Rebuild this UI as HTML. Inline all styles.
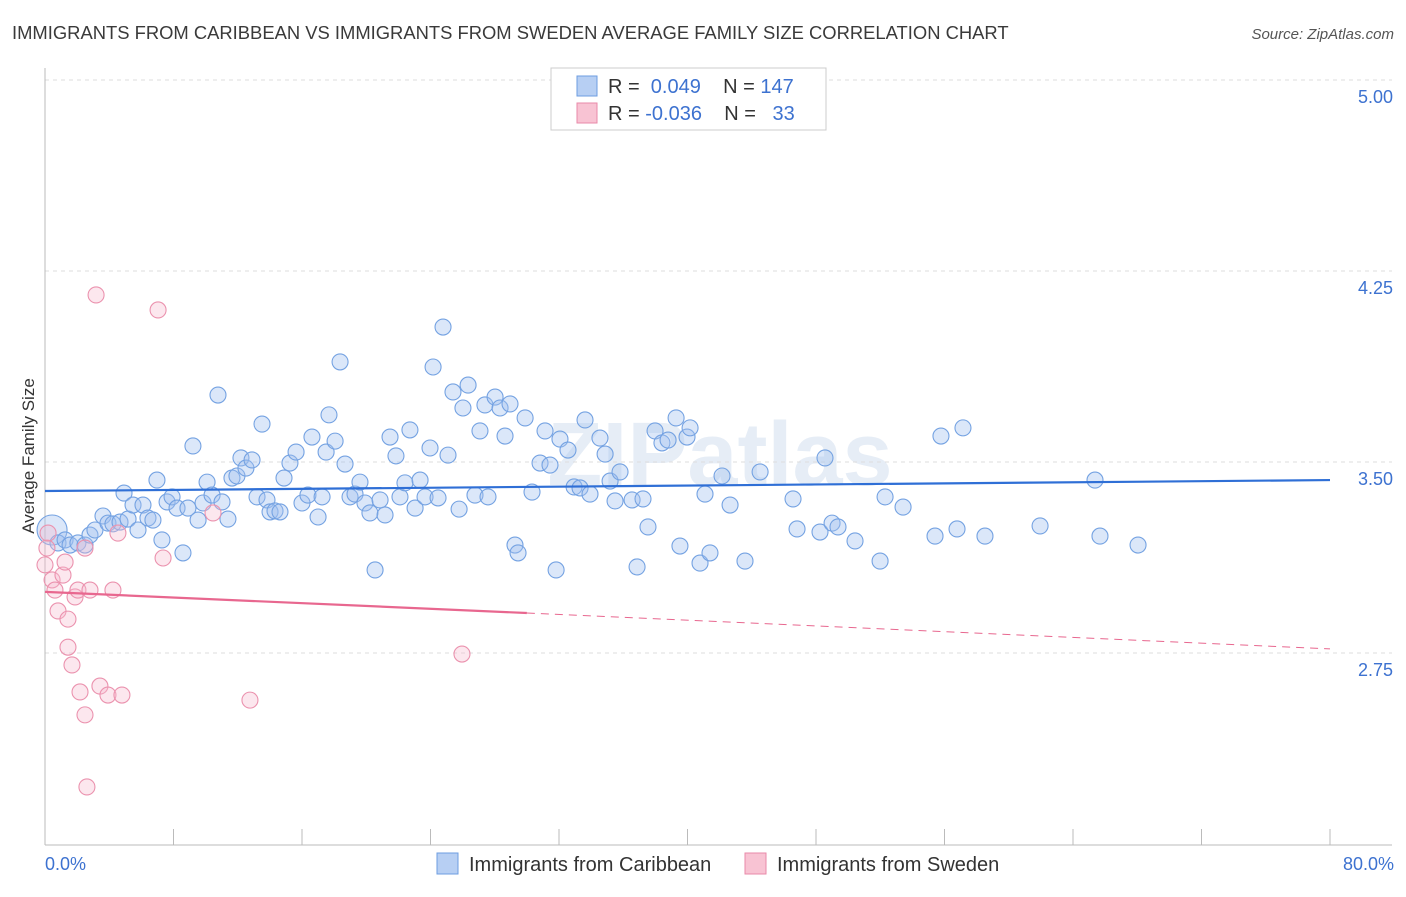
<!DOCTYPE html>
<html><head><meta charset="utf-8"><style>
body{margin:0;background:#fff;font-family:"Liberation Sans",sans-serif;}
svg text{font-family:"Liberation Sans",sans-serif;}
</style></head><body>
<svg id="chart" width="1406" height="892">
<text x="12" y="39" font-size="18.4" fill="#3a3a3a">IMMIGRANTS FROM CARIBBEAN VS IMMIGRANTS FROM SWEDEN AVERAGE FAMILY SIZE CORRELATION CHART</text>
<text x="1394" y="39" font-size="15" fill="#555" text-anchor="end" font-style="italic">Source: ZipAtlas.com</text>
<text x="720" y="485" font-size="90" fill="#e6edf6" text-anchor="middle" font-weight="bold">ZIPatlas</text>
<g id="grid"></g><g id="axes"></g><g id="pts"></g><g id="trend"></g>
<text x="34" y="456" font-size="17" fill="#333" text-anchor="middle" transform="rotate(-90 34 456)">Average Family Size</text>
<text x="45" y="870" font-size="18" fill="#3d72d0">0.0%</text>
<text x="1394" y="870" font-size="18" fill="#3d72d0" text-anchor="end">80.0%</text>
<g>
<rect x="551" y="68" width="275" height="62" fill="#fff" stroke="#ccc"/>
<rect x="577" y="76" width="20" height="20" fill="#b7cff3" stroke="#6e9de0"/>
<rect x="577" y="103" width="20" height="20" fill="#f8c3d3" stroke="#e98aa8"/>
<text x="608" y="93" font-size="20" fill="#333">R = <tspan fill="#3d72d0">&#160;0.049</tspan>&#160;&#160;&#160; N = <tspan fill="#3d72d0">147</tspan></text>
<text x="608" y="120" font-size="20" fill="#333">R = <tspan fill="#3d72d0">-0.036</tspan>&#160;&#160;&#160; N = <tspan fill="#3d72d0">&#160;&#160;33</tspan></text>
</g>
<g>
<rect x="437" y="853" width="21" height="21" fill="#b7cff3" stroke="#6e9de0"/>
<text x="469" y="871" font-size="20" fill="#333">Immigrants from Caribbean</text>
<rect x="745" y="853" width="21" height="21" fill="#f8c3d3" stroke="#e98aa8"/>
<text x="777" y="871" font-size="20" fill="#333">Immigrants from Sweden</text>
</g>
</svg>
<script>
const yTicks=[5.00,4.25,3.50,2.75];
const xTicks=[0,8,16,24,32,40,48,56,64,72,80];
const blueX=[0.44,0.81,1.25,1.56,2.05,2.49,2.80,3.11,3.61,3.92,4.23,4.67,4.92,5.17,5.48,5.79,6.10,6.41,6.72,6.97,7.28,7.60,7.91,8.22,8.59,8.90,9.21,9.53,9.84,10.09,10.40,10.77,11.02,11.39,11.64,11.95,12.20,12.51,12.89,13.20,13.51,13.82,14.01,14.32,14.63,14.88,15.25,15.63,16.00,16.37,16.62,17.00,17.25,17.50,17.68,18.06,18.37,18.68,18.99,19.30,19.61,19.92,20.23,20.55,20.86,21.17,21.48,21.85,22.10,22.41,22.72,23.04,23.35,23.66,23.97,24.16,24.47,24.78,25.09,25.40,25.78,26.02,26.34,26.77,27.08,27.39,27.58,28.02,28.33,28.64,28.95,29.26,29.45,29.89,30.32,30.82,31.13,31.44,31.82,32.06,32.56,32.94,33.31,33.62,33.93,34.55,34.87,35.18,35.49,35.80,36.55,36.86,37.23,37.54,37.98,38.41,38.79,39.29,39.53,39.97,40.16,40.78,41.09,41.40,42.15,42.65,43.58,44.52,46.57,46.82,48.25,48.56,49.00,49.37,50.43,51.99,52.30,53.42,55.41,55.78,56.78,57.15,58.52,61.95,65.37,65.68,68.05];
const blueY=[3.233,3.182,3.194,3.174,3.182,3.174,3.213,3.233,3.288,3.260,3.257,3.264,3.378,3.276,3.331,3.233,3.331,3.280,3.272,3.429,3.194,3.343,3.363,3.319,3.143,3.319,3.563,3.272,3.339,3.421,3.370,3.763,3.343,3.276,3.437,3.445,3.516,3.476,3.508,3.363,3.649,3.351,3.304,3.308,3.304,3.437,3.496,3.539,3.339,3.370,3.598,3.284,3.363,3.539,3.685,3.582,3.893,3.492,3.363,3.374,3.421,3.339,3.300,3.076,3.351,3.292,3.598,3.524,3.363,3.418,3.626,3.319,3.429,3.363,3.555,3.873,3.359,4.030,3.527,3.775,3.315,3.712,3.802,3.370,3.622,3.724,3.363,3.755,3.712,3.602,3.728,3.174,3.143,3.673,3.382,3.496,3.622,3.488,3.076,3.590,3.547,3.402,3.398,3.665,3.374,3.594,3.531,3.425,3.347,3.461,3.351,3.088,3.355,3.245,3.622,3.575,3.586,3.673,3.170,3.598,3.634,3.103,3.374,3.143,3.445,3.331,3.111,3.461,3.355,3.237,3.225,3.516,3.260,3.245,3.190,3.111,3.363,3.323,3.209,3.602,3.237,3.634,3.209,3.249,3.429,3.209,3.174];
const pinkX=[0.0,0.12,0.44,0.62,0.81,1.12,1.25,1.43,1.43,1.68,1.87,2.05,2.18,2.49,2.61,2.80,3.18,3.42,3.92,4.23,4.54,4.79,7.04,7.35,10.46,12.76,25.96,2.49,0.19];
const pinkY=[3.096,3.162,3.037,2.997,2.915,3.056,3.107,2.883,2.773,2.703,2.970,2.997,2.597,2.507,2.224,2.997,4.156,2.620,2.585,2.997,3.221,2.585,4.097,3.123,3.300,2.565,2.746,3.162,3.221];
const blueTrend=[3.386,3.429];
const pinkTrend=[2.99,2.907,2.766];
const NS='http://www.w3.org/2000/svg';
const sx=v=>45+v/80*1285;
const sy=v=>80+(5-v)/0.75*191;
function mk(t,a,p){const e=document.createElementNS(NS,t);for(const k in a)e.setAttribute(k,a[k]);p.appendChild(e);return e;}
const grid=document.getElementById('grid'),axes=document.getElementById('axes');
yTicks.forEach(t=>{
 const l=mk('line',{x1:45,x2:1392,y1:sy(t),y2:sy(t),stroke:'#ddd','stroke-dasharray':'4,4'},grid);
 
 
 const tx=mk('text',{x:1393,y:sy(t)+23,'font-size':18,fill:'#3d72d0','text-anchor':'end'},grid);
 tx.textContent=t.toFixed(2);
 
 
});
const ya=mk('line',{x1:45,x2:45,y1:68,y2:845,stroke:'#bbb'},axes);


const xa=mk('line',{x1:45,x2:1392,y1:845,y2:845,stroke:'#bbb'},axes);


xTicks.forEach(t=>{
 const l=mk('line',{x1:sx(t),x2:sx(t),y1:829,y2:845,stroke:'#bbb'},axes);
 
 
});
const pts=document.getElementById('pts');
blueX.forEach((x,i)=>{
 const c=mk('circle',{cx:sx(x),cy:sy(blueY[i]),r:i===0?15:8,fill:'rgba(160,192,240,0.38)',stroke:'#74a2e2','stroke-width':1.1},pts);
 
 
});
pinkX.forEach((x,i)=>{
 const c=mk('circle',{cx:sx(x),cy:sy(pinkY[i]),r:8,fill:'rgba(246,185,205,0.35)',stroke:'#eb92ae','stroke-width':1.1},pts);
 
 
});
const tr=document.getElementById('trend');
const bl=mk('line',{x1:sx(0),x2:sx(80),y1:sy(blueTrend[0]),y2:sy(blueTrend[1]),stroke:'#2f6fd6','stroke-width':2.2},tr);


const pl=mk('line',{x1:sx(0),x2:sx(30),y1:sy(pinkTrend[0]),y2:sy(pinkTrend[1]),stroke:'#e8678f','stroke-width':2.2},tr);


const pd=mk('line',{x1:sx(30),x2:sx(80),y1:sy(pinkTrend[1]),y2:sy(pinkTrend[2]),stroke:'#e8678f','stroke-width':1,'stroke-dasharray':'8,6'},tr);


</script>
</body></html>
